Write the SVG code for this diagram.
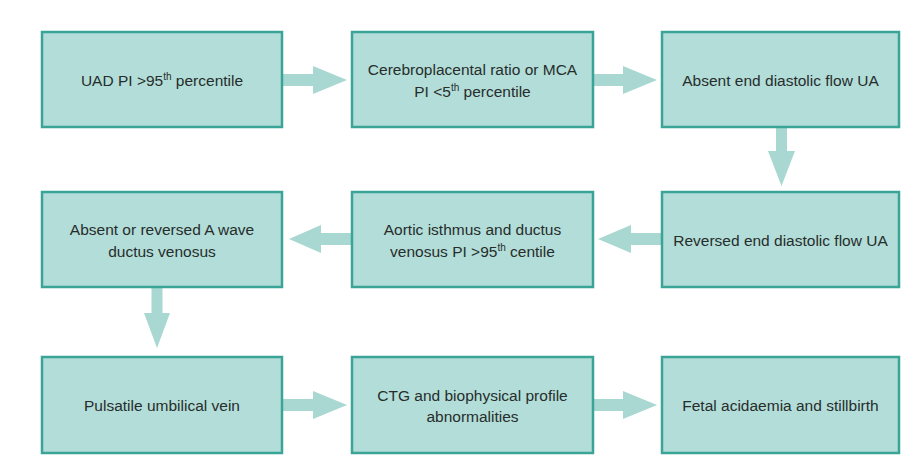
<svg xmlns="http://www.w3.org/2000/svg" width="902" height="468" viewBox="0 0 902 468">
<style>
.box{fill:#b3ddd8;stroke:#3aa597;stroke-width:2.5}
.t{font-family:"Liberation Sans",Arial,sans-serif;font-size:15.5px;fill:#262d2c;text-anchor:middle}
.sup{font-size:10px}
.arr{fill:#a8d8d1}
</style>
<rect width="902" height="468" fill="#ffffff"/>
<g id="connectors">
<polygon class="arr" points="283,74 313,74 313,66 347,80 313,94 313,86 283,86"/>
<polygon class="arr" points="594,74 623,74 623,66 657,80 623,94 623,86 594,86"/>
<polygon class="arr" points="776,128 776,151 768,151 781.5,186 795,151 787,151 787,128"/>
<polygon class="arr" points="661,233 631,233 631,225 598,239 631,253 631,245 661,245"/>
<polygon class="arr" points="351,233 321,233 321,225 289,239 321,253 321,245 351,245"/>
<polygon class="arr" points="151.5,288 151.5,313 144,313 157,348 170,313 162.5,313 162.5,288"/>
<polygon class="arr" points="283,399 313,399 313,391 347,405 313,419 313,411 283,411"/>
<polygon class="arr" points="594,399 623,399 623,391 657,405 623,419 623,411 594,411"/>
</g>
<g id="n1"><rect class="box" x="42" y="32" width="240" height="95"/>
<text class="t" x="162" y="86">UAD PI &gt;95<tspan class="sup" dy="-6">th</tspan><tspan dy="6"> percentile</tspan></text></g>
<g id="n2"><rect class="box" x="352" y="32" width="241" height="95"/>
<text class="t" x="472.5" y="75">Cerebroplacental ratio or MCA</text>
<text class="t" x="472.5" y="97">PI &lt;5<tspan class="sup" dy="-6">th</tspan><tspan dy="6"> percentile</tspan></text></g>
<g id="n3"><rect class="box" x="662" y="32" width="237" height="95"/>
<text class="t" x="780.5" y="86">Absent end diastolic flow UA</text></g>
<g id="n4"><rect class="box" x="42" y="192" width="240" height="95"/>
<text class="t" x="162" y="235">Absent or reversed A wave</text>
<text class="t" x="162" y="257">ductus venosus</text></g>
<g id="n5"><rect class="box" x="352" y="192" width="241" height="95"/>
<text class="t" x="472.5" y="235">Aortic isthmus and ductus</text>
<text class="t" x="472.5" y="257">venosus PI &gt;95<tspan class="sup" dy="-6">th</tspan><tspan dy="6"> centile</tspan></text></g>
<g id="n6"><rect class="box" x="662" y="192" width="237" height="95"/>
<text class="t" x="780.5" y="246">Reversed end diastolic flow UA</text></g>
<g id="n7"><rect class="box" x="42" y="357" width="240" height="96"/>
<text class="t" x="162" y="411">Pulsatile umbilical vein</text></g>
<g id="n8"><rect class="box" x="352" y="357" width="241" height="96"/>
<text class="t" x="472.5" y="401">CTG and biophysical profile</text>
<text class="t" x="472.5" y="422">abnormalities</text></g>
<g id="n9"><rect class="box" x="662" y="357" width="237" height="96"/>
<text class="t" x="780.5" y="411">Fetal acidaemia and stillbirth</text></g>
</svg>
